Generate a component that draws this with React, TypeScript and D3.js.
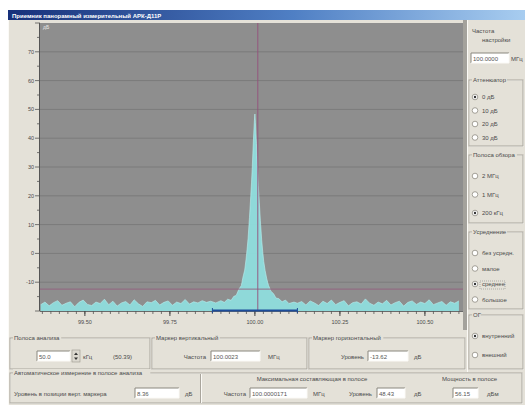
import { scaleLinear, area, line, range, curveLinear } from "d3";

const width = 525;
const height = 405;

// sweep / axis settings
const freqDomain = [99.368, 100.612];
const levelDomain = [-20, 80];
const levelTicks = [-10, 0, 10, 20, 30, 40, 50, 60, 70];
const freqTicks = [99.5, 99.75, 100.0, 100.25, 100.5];
const freqTickLabels = ["99.50", "99.75", "100.00", "100.25", "100.50"];

// noise floor (bins of 12.5 kHz)
const noiseLeftStart = 99.37;
const noiseRightStart = 100.125;
const binWidth = 0.0125;
const noiseLeft = [
  -17.8, -16.9, -18.2, -17.1, -16.4, -18.0, -17.3, -16.8, -18.5, -17.0, -16.2,
  -17.7, -18.1, -16.9, -17.4, -15.9, -17.8, -16.6, -18.3, -17.2, -16.7, -17.9,
  -16.1, -17.5, -18.4, -16.8, -17.1, -16.3, -17.9, -17.0, -16.5, -18.0, -16.9,
  -17.4, -16.0, -17.6, -16.8, -17.2, -16.4, -17.0, -16.6,
];
const noiseRight = [
  -17.3, -16.7, -17.9, -16.5, -17.2, -18.1, -16.6, -17.4, -16.2, -17.8, -17.0,
  -16.4, -18.2, -17.1, -16.8, -17.6, -15.8, -17.3, -18.0, -16.9, -17.5, -16.3,
  -17.9, -17.1, -16.6, -18.3, -17.0, -16.5, -17.7, -16.9, -17.4, -16.1, -17.8,
  -17.2, -16.7, -18.0, -16.8, -17.3, -16.5, -17.6,
];

// carrier around 100 MHz: offset from centre (MHz) and level (dB)
const peakOffset = [
  -0.115, -0.1, -0.09, -0.08, -0.07, -0.062, -0.055, -0.047, -0.04, -0.035,
  -0.03, -0.026, -0.023, -0.02, -0.016, -0.013, -0.01, -0.008, -0.006, -0.0045,
  -0.003, -0.0015, 0, 0.0015, 0.003, 0.0045, 0.006, 0.008, 0.01, 0.013, 0.016,
  0.02, 0.023, 0.026, 0.03, 0.035, 0.04, 0.047, 0.055, 0.062, 0.07, 0.08, 0.09,
  0.1, 0.115,
];
const peakLevel = [
  -17.2, -16.4, -17.0, -15.9, -16.3, -14.9, -14.6, -12.4, -11.2, -8.2, -5.8,
  -2.0, 1.4, 5.3, 12.4, 18.2, 24.5, 29.2, 34.8, 39.0, 42.5, 46.0, 48.4, 45.5,
  41.5, 38.2, 34.0, 28.5, 23.5, 17.6, 11.5, 4.6, 0.6, -2.8, -5.9, -8.9, -11.1,
  -13.1, -14.0, -15.5, -15.7, -16.8, -16.2, -17.4, -16.9,
];
const centreFreq = 100.0;

// markers and analysis band
const vMarkerFreq = 100.0085;
const hMarkerLevel = -12.4;
const bandStart = 99.875;
const bandEnd = 100.125;

// right-hand controls
const attenOptions = ["0 дБ", "10 дБ", "20 дБ", "30 дБ"];
const spanOptions = ["2 МГц", "1 МГц", "200 кГц"];
const avgOptions = ["без усредн.", "малое", "среднее", "большое"];
const refOptions = ["внутренний", "внешний"];

const bg = "#e4e1d8";
const plotBg = "#8e8e8e";
const txt = "#4a4a4a";
const font = "'Liberation Sans', Arial, sans-serif";

const x = scaleLinear().domain(freqDomain).range([40, 463]);
const y = scaleLinear().domain(levelDomain).range([311, 23]);

const spectrum = [
  ...noiseLeft.map((v, i) => ({ f: noiseLeftStart + i * binWidth, v })),
  ...peakOffset.map((o, i) => ({ f: centreFreq + o, v: peakLevel[i] })),
  ...noiseRight.map((v, i) => ({ f: noiseRightStart + i * binWidth, v })),
].filter((d) => d.f <= freqDomain[1]);

const spectrumArea = area<{ f: number; v: number }>()
  .x((d) => x(d.f))
  .y0(y(levelDomain[0]))
  .y1((d) => y(d.v))
  .curve(curveLinear);
const spectrumLine = line<{ f: number; v: number }>()
  .x((d) => x(d.f))
  .y((d) => y(d.v));

const Label = ({ x, y, children, anchor = "start", size = 6, fill = txt, weight = "normal" }: any) => (
  <text x={x} y={y} fontSize={size} fill={fill} textAnchor={anchor} fontFamily={font} fontWeight={weight}>
    {children}
  </text>
);

const Group = ({ x, y, w, h, title }: any) => (
  <g>
    <rect x={x + 0.5} y={y + 0.5} width={w} height={h} fill="none" stroke="#fbfaf6" />
    <rect x={x} y={y} width={w} height={h} fill="none" stroke="#a9a59c" />
    {title && (
      <>
        <rect x={x + 3} y={y - 4} width={title.length * 3.3 + 2} height={7} fill={bg} />
        <Label x={x + 4} y={y + 2}>{title}</Label>
      </>
    )}
  </g>
);

const Field = ({ x, y, w, value }: any) => (
  <g>
    <rect x={x} y={y} width={w} height={10} fill="#ffffff" />
    <path d={`M${x},${y + 10} V${y} H${x + w}`} fill="none" stroke="#8a877f" />
    <path d={`M${x + w},${y} V${y + 10} H${x}`} fill="none" stroke="#fbfaf6" />
    <Label x={x + 2} y={y + 7.5} fill="#555">{value}</Label>
  </g>
);

const Radio = ({ x, y, label, on }: any) => (
  <g>
    <circle cx={x} cy={y} r={2.8} fill="#fff" stroke="#8f8b82" strokeWidth={0.8} />
    {on && <circle cx={x} cy={y} r={1.2} fill="#333" />}
    <Label x={x + 7} y={y + 2}>{label}</Label>
  </g>
);

const App = () => {
  const minorTicks = range(99.375, 100.62, 0.025);
  return (
    <svg width={width} height={height} style={{ position: "absolute", left: 0, top: 0 }}>
      <defs>
        <linearGradient id="title" x1="0" x2="1" y1="0" y2="0">
          <stop offset="0" stopColor="#17307a" />
          <stop offset="0.55" stopColor="#4f7fc4" />
          <stop offset="1" stopColor="#a8cdf0" />
        </linearGradient>
      </defs>
      <rect width={width} height={height} fill="#ffffff" />
      {/* window */}
      <rect x={8} y={10} width={517} height={395} fill={bg} />
      <rect x={8} y={10} width={517} height={10} fill="url(#title)" />
      <Label x={12} y={17.5} fill="#ffffff" size={6} weight="bold">
        Приемник панорамный измерительный АРК-Д11Р
      </Label>
      <line x1={8.5} y1={20} x2={8.5} y2={405} stroke="#fbfaf6" />

      {/* plot */}
      <rect x={40} y={23} width={423} height={288} fill={plotBg} />
      <rect x={463} y={20} width={4} height={310} fill="#a4a29c" />
      {levelTicks.map((t) => (
        <line key={t} x1={40} x2={463} y1={y(t)} y2={y(t)} stroke="#7b7b7b" />
      ))}
      <path d={spectrumArea(spectrum) ?? ""} fill="#8fe0e0" fillOpacity={0.92} />
      <path d={spectrumLine(spectrum) ?? ""} fill="none" stroke="#b9f0f0" strokeWidth={0.6} />
      <line x1={40} x2={463} y1={y(hMarkerLevel)} y2={y(hMarkerLevel)} stroke="#94607f" strokeWidth={0.9} />
      <line x1={x(vMarkerFreq)} x2={x(vMarkerFreq)} y1={23} y2={311} stroke="#94507c" strokeWidth={0.9} />
      <Label x={43} y={29} fill="#e8e8e8" size={5}>дБ</Label>

      {/* level axis */}
      <line x1={39.5} x2={39.5} y1={23} y2={311} stroke="#555" />
      {range(-20, 81, 5).map((t) => (
        <line key={t} x1={t % 10 === 0 ? 35 : 37} x2={40} y1={y(t)} y2={y(t)} stroke="#555" strokeWidth={0.8} />
      ))}
      {levelTicks.map((t) => (
        <Label key={t} x={34} y={y(t) + 2} anchor="end" size={5.5}>
          {t}
        </Label>
      ))}

      {/* frequency axis */}
      <line x1={40} x2={463} y1={311.5} y2={311.5} stroke="#6a6a6a" />
      {minorTicks.map((t, i) => (
        <line key={i} x1={x(t)} x2={x(t)} y1={311} y2={314} stroke="#555" strokeWidth={0.8} />
      ))}
      {freqTicks.map((t, i) => (
        <g key={t}>
          <line x1={x(t)} x2={x(t)} y1={311} y2={316} stroke="#444" />
          <Label x={x(t)} y={324} anchor="middle" size={5.5}>
            {freqTickLabels[i]}
          </Label>
        </g>
      ))}
      <line x1={x(bandStart)} x2={x(bandEnd)} y1={310.5} y2={310.5} stroke="#1d4c9a" strokeWidth={2.2} />
      <line x1={x(bandStart)} x2={x(bandStart)} y1={308} y2={313} stroke="#1d4c9a" />
      <line x1={x(bandEnd)} x2={x(bandEnd)} y1={308} y2={313} stroke="#1d4c9a" />

      {/* right panel */}
      <line x1={467.5} x2={467.5} y1={20} y2={372} stroke="#fbfaf6" />
      <Label x={472} y={33}>Частота</Label>
      <Label x={482} y={42}>настройки</Label>
      <Field x={471} y={53} w={38} value="100.0000" />
      <Label x={511} y={61}>МГц</Label>

      <Group x={469} y={80} w={54} h={66} title="Аттенюатор" />
      {attenOptions.map((o, i) => (
        <Radio key={o} x={475} y={97 + i * 13.5} label={o} on={i === 0} />
      ))}
      <Group x={469} y={155} w={54} h={68} title="Полоса обзора" />
      {spanOptions.map((o, i) => (
        <Radio key={o} x={475} y={176 + i * 18.5} label={o} on={i === 2} />
      ))}
      <Group x={469} y={232} w={54} h={77} title="Усреднение" />
      {avgOptions.map((o, i) => (
        <Radio key={o} x={475} y={253 + i * 15.5} label={o} on={i === 2} />
      ))}
      <rect x={480} y={281} width={25} height={8} fill="none" stroke="#777" strokeDasharray="1 1" strokeWidth={0.5} />
      <Group x={469} y={315} w={54} h={54} title="ОГ" />
      {refOptions.map((o, i) => (
        <Radio key={o} x={475} y={336 + i * 19} label={o} on={i === 0} />
      ))}

      {/* bottom row 1 */}
      <Group x={10} y={338} w={140} h={31} title="Полоса анализа" />
      <Field x={37} y={351} w={33} value="50.0" />
      <rect x={72} y={350} width={8} height={12} fill="#dcd9d0" stroke="#9a968d" strokeWidth={0.6} />
      <path d="M74,355 L76,352.5 L78,355 Z M74,357.5 L76,360 L78,357.5 Z" fill="#333" />
      <Label x={83} y={359}>кГц</Label>
      <Label x={113} y={359}>(50.39)</Label>

      <Group x={152} y={338} w={155} h={31} title="Маркер вертикальный" />
      <Label x={206} y={359} anchor="end">Частота</Label>
      <Field x={211} y={351} w={49} value="100.0023" />
      <Label x={268} y={359}>МГц</Label>

      <Group x={309} y={338} w={156} h={31} title="Маркер горизонтальный" />
      <Label x={364} y={359} anchor="end">Уровень</Label>
      <Field x={368} y={351} w={40} value="-13.62" />
      <Label x={414} y={359}>дБ</Label>

      {/* bottom row 2 */}
      <Group x={10} y={373} w={512} h={30} title="Автоматическое измерение в полосе анализа" />
      <line x1={200.5} x2={200.5} y1={374} y2={403} stroke="#a9a59c" />
      <line x1={201.5} x2={201.5} y1={374} y2={403} stroke="#fbfaf6" />
      <Label x={14} y={396}>Уровень в позиции верт. маркера</Label>
      <Field x={135} y={388} w={44} value="8.36" />
      <Label x={185} y={396}>дБ</Label>

      <Label x={312} y={381} anchor="middle">Максимальная составляющая в полосе</Label>
      <Label x={246} y={396} anchor="end">Частота</Label>
      <Field x={250} y={388} w={57} value="100.0000171" />
      <Label x={313} y={396}>МГц</Label>
      <Label x={372} y={396} anchor="end">Уровень</Label>
      <Field x={377} y={388} w={28} value="48.43" />
      <Label x={414} y={396}>дБ</Label>
      <Label x={442} y={381}>Мощность в полосе</Label>
      <Field x={453} y={388} w={25} value="56.15" />
      <Label x={487} y={396}>дБм</Label>
    </svg>
  );
};

export default App;
